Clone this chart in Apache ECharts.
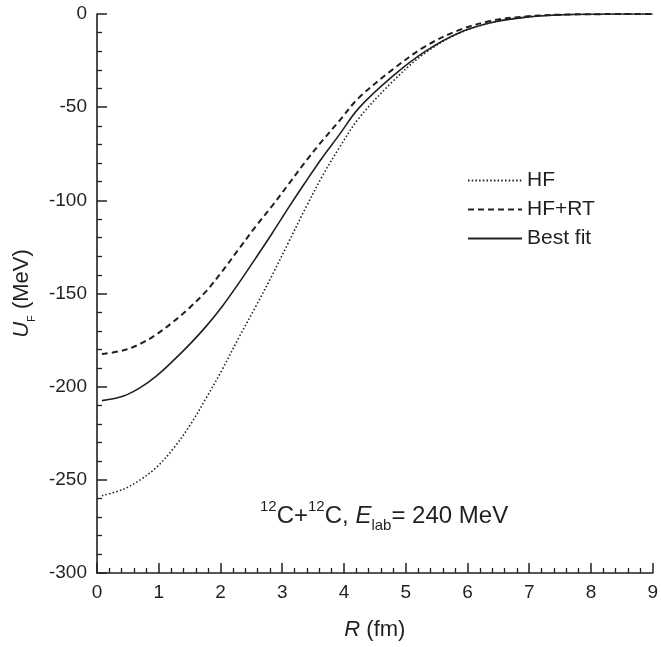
<!DOCTYPE html>
<html>
<head>
<meta charset="utf-8">
<script src="https://cdn.jsdelivr.net/npm/echarts@6/dist/echarts.min.js"></script>
<style>
html,body{margin:0;padding:0;background:#fff;}
#chart{width:661px;height:647px;}
</style>
</head>
<body>
<div id="chart"></div>
<script>
// Data
const R      = [0.08, 0.43, 0.70, 0.96, 1.23, 1.50, 1.77, 2.03, 2.30, 2.57, 2.84, 3.11, 3.38, 3.65, 3.92, 4.24, 4.78, 5.31, 5.85, 6.39, 6.92, 7.46, 8.0, 9.0];
const HF     = [-258.5, -255, -250, -243.4, -233.5, -221, -206, -190.7, -173.5, -157, -140, -122, -104, -87, -72, -56, -36.5, -21, -10.5, -4.6, -1.8, -0.5, -0.1, 0];
const HF_RT  = [-182.5, -180.5, -177, -172, -165.3, -157.6, -148.7, -138, -126, -114, -102.8, -91, -79.1, -68, -57.5, -45, -30, -17.5, -8.8, -3.6, -1.4, -0.4, -0.1, 0];
const BEST   = [-207.5, -205, -200.5, -194.3, -186.2, -177.3, -167.5, -156.8, -144.3, -131, -117.5, -103.5, -90, -77, -65, -50.5, -33.6, -20.2, -10.3, -4.6, -1.8, -0.5, -0.1, 0];
const seriesNames = ['HF', 'HF+RT', 'Best fit'];

const FONT = "'Liberation Sans', Arial, Helvetica, sans-serif";
const INK = '#231f20';

function pts(ys){ return R.map((r,i)=>[r, ys[i]]); }

const chart = echarts.init(document.getElementById('chart'), null, {renderer:'canvas'});
const axisCommon = {
  axisLine:{show:true, onZero:false, lineStyle:{color:INK, width:1.6}},
  axisTick:{show:true, inside:true, length:10, lineStyle:{color:INK, width:1.5}},
  minorTick:{show:true, splitNumber:5, length:5, lineStyle:{color:INK, width:1.3}},
  splitLine:{show:false},
  axisLabel:{color:INK, fontSize:19, fontFamily:FONT},
};
chart.setOption({
  animation:false,
  backgroundColor:'#fff',
  grid:{left:97, right:6, top:14, bottom:74, containLabel:false},
  xAxis:Object.assign({}, axisCommon, {
    type:'value', min:0, max:9, interval:1,
    axisLabel:Object.assign({}, axisCommon.axisLabel, {margin:10}),
    name:'{i|R}{n| (fm)}', nameLocation:'middle', nameGap:46,
    nameTextStyle:{rich:{
      i:{fontSize:22, fontStyle:'italic', fontFamily:FONT, color:INK},
      n:{fontSize:22, fontFamily:FONT, color:INK}
    }}
  }),
  yAxis:Object.assign({}, axisCommon, {
    type:'value', min:-300, max:0, interval:50,
    axisLabel:Object.assign({}, axisCommon.axisLabel, {margin:10}),
    name:'{i|U}{sub|F}{n| (MeV)}', nameLocation:'middle', nameGap:60,
    nameTextStyle:{rich:{
      i:{fontSize:22, fontStyle:'italic', fontFamily:FONT, color:INK, lineHeight:30},
      sub:{fontSize:11, fontFamily:FONT, color:INK, verticalAlign:'bottom', lineHeight:13},
      n:{fontSize:22, fontFamily:FONT, color:INK, lineHeight:30}
    }}
  }),
  legend:{
    orient:'vertical', left:462, top:165, itemWidth:54, itemHeight:14, itemGap:8,
    itemStyle:{color:'transparent', borderWidth:0, opacity:0},
    textStyle:{fontSize:21, lineHeight:21, fontFamily:FONT, color:INK, padding:[0,0,0,0]},
    data:seriesNames
  },
  graphic:[{
    type:'text', left:260, top:499,
    style:{
      text:'{sup|12}{n|C+}{sup|12}{n|C, }{i|E}{sub|lab}{n|= 240 MeV}',
      rich:{
        n:{fontSize:24, fontFamily:FONT, fill:INK, lineHeight:34},
        i:{fontSize:24, fontFamily:FONT, fontStyle:'italic', fill:INK, lineHeight:34},
        sup:{fontSize:15, fontFamily:FONT, fill:INK, verticalAlign:'top', lineHeight:16},
        sub:{fontSize:15, fontFamily:FONT, fill:INK, verticalAlign:'bottom', lineHeight:16}
      }
    }
  }],
  series:[
    {name:seriesNames[0], type:'line', data:pts(HF), symbol:'none', showSymbol:false, smooth:0.35,
     lineStyle:{color:INK, width:1.6, type:[1.5,2.2]}, itemStyle:{color:INK}},
    {name:seriesNames[1], type:'line', data:pts(HF_RT), symbol:'none', showSymbol:false, smooth:0.35,
     lineStyle:{color:INK, width:2, type:[6,4]}, itemStyle:{color:INK}},
    {name:seriesNames[2], type:'line', data:pts(BEST), symbol:'none', showSymbol:false, smooth:0.35,
     lineStyle:{color:INK, width:1.6, type:'solid'}, itemStyle:{color:INK}}
  ]
});
</script>
</body>
</html>
